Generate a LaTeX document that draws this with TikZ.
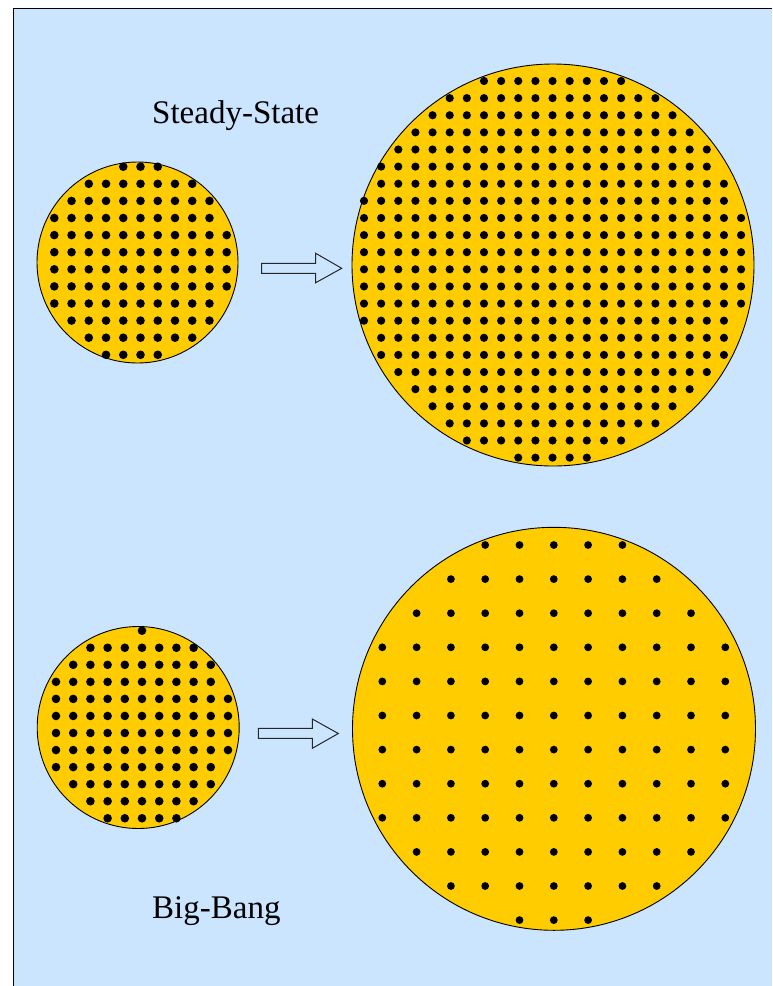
\documentclass[tikz,border=0pt]{standalone}
\usepackage{fontspec}
\setmainfont{Liberation Serif}
\definecolor{bgblue}{HTML}{CCE5FF}
\definecolor{sunyellow}{HTML}{FFCC00}
\tikzset{
  universe/.style={circle, draw=black, line width=0.9pt, fill=sunyellow, inner sep=0pt},
  galaxy/.style={fill=black},
  blockarrow/.style={draw=black!85, line width=1pt, fill=bgblue, line join=miter},
  caption/.style={anchor=base west, inner sep=0pt, font=\fontsize{33}{40}\selectfont}
}
\begin{document}
\begin{tikzpicture}[x=1pt,y=-1pt]
\useasboundingbox (0,0) rectangle (772,986);
% background panel
\fill[bgblue] (13.5,8.5) rectangle (772,986);
\coordinate (pTL) at (13.5,8.5);
\coordinate (pTR) at (772,8.5);
\coordinate (pBL) at (13.5,986);
\draw[line width=1.5pt] (pBL) -- (pTL) -- (pTR);

% universes
\node[universe, minimum size=201pt] (ssA) at (137.5,262.5) {};
\node[universe, minimum size=402pt] (ssB) at (553,265) {};
\node[universe, minimum size=202pt] (bbA) at (138.2,727.5) {};
\node[universe, minimum size=403pt] (bbB) at (554,728.8) {};

% galaxies: steady-state small
\foreach \j/\a/\b in {0/4/6,1/2/8,2/1/9,3/0/9,4/0/10,5/0/10,6/0/10,7/0/10,8/0/9,9/1/9,10/2/8,11/3/6}
  \foreach \k in {\a,...,\b}
    \fill[galaxy] ({54.3+17.24*\k},{166.7+17.1*\j}) circle [radius=4.3pt];
% steady-state large
\foreach \j/\a/\b in {0/7/15,1/5/17,2/4/18,3/3/19,4/2/20,5/1/20,6/1/21,7/0/21,8/0/22,9/0/22,10/0/22,11/0/22,12/0/22,13/0/22,14/0/21,15/1/21,16/1/21,17/2/20,18/3/19,19/4/18,20/5/17,21/6/15,22/9/13}
  \foreach \k in {\a,...,\b}
    \fill[galaxy] ({364+17.14*\k},{81+17.12*\j}) circle [radius=4.1pt];
% big-bang small
\foreach \j/\a/\b in {0/5/5,1/2/8,2/1/9,3/0/9,4/0/10,5/0/10,6/0/10,7/0/10,8/0/9,9/1/9,10/2/8,11/3/7}
  \foreach \k in {\a,...,\b}
    \fill[galaxy] ({56+17.2*\k},{630.7+17.05*\j}) circle [radius=4.3pt];
% big-bang large
\foreach \j/\a/\b in {0/3/7,1/2/8,2/1/9,3/0/10,4/0/10,5/0/10,6/0/10,7/0/10,8/0/10,9/1/9,10/2/8,11/4/6}
  \foreach \k in {\a,...,\b}
    \fill[galaxy] ({382.3+34.3*\k},{545+34.1*\j}) circle [radius=3.9pt];

% block arrows
\draw[blockarrow] (261.7,263.3) -- (315.7,263.3) -- (315.7,253.3) -- (341.7,268.3)
  -- (315.7,282.7) -- (315.7,273.3) -- (261.7,273.3) -- cycle;
\draw[blockarrow] (258.3,728.3) -- (312.3,728.3) -- (312.3,719) -- (338.3,733.5)
  -- (312.3,748.3) -- (312.3,738.3) -- (258.3,738.3) -- cycle;

% captions
\node[caption] (lblSS) at (152,123) {Steady-State};
\node[caption] (lblBB) at (152,918) {Big-Bang};
\end{tikzpicture}
\end{document}
